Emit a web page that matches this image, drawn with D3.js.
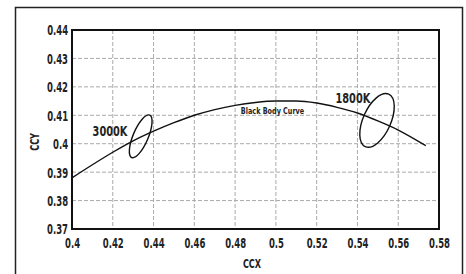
<!DOCTYPE html>
<html>
<head>
<meta charset="utf-8">
<script src="https://cdn.jsdelivr.net/npm/d3@7"></script>
<style>
  body { margin: 0; background: #fff; }
  text { font-family: "DejaVu Sans", sans-serif; font-weight: bold; fill: #222; }
</style>
</head>
<body>
<div id="chart"></div>
<script>
// chart values
var xTicks = [0.4, 0.42, 0.44, 0.46, 0.48, 0.5, 0.52, 0.54, 0.56, 0.58];
var yTicks = [0.37, 0.38, 0.39, 0.4, 0.41, 0.42, 0.43, 0.44];

// black body curve
var curveX = [0.40, 0.41, 0.42, 0.43, 0.44, 0.45, 0.46, 0.47, 0.48, 0.49, 0.50, 0.51, 0.52, 0.53, 0.54, 0.55, 0.56, 0.5735];
var curveY = [0.388, 0.3926, 0.3970, 0.4010, 0.4044, 0.4074, 0.4100, 0.4120, 0.4135, 0.4145, 0.4150, 0.4150, 0.4143, 0.4128, 0.4108, 0.4080, 0.4048, 0.3993];

// colour ellipses: name, centre, semi axes (in CCX units), tilt
var ellipseNames = ["3000K", "1800K"];
var ellipseCx = [0.4337, 0.5496];
var ellipseCy = [0.4026, 0.4082];
var ellipseA = [0.0113, 0.0141];
var ellipseB = [0.0037, 0.0068];
var ellipseTilt = [-67, -66];

var width = 466;
var height = 274;

// narrow font look: squeeze text horizontally
function squeeze(sel, k, origin) {
    sel.style("transform-box", "fill-box")
        .style("transform-origin", origin)
        .style("transform", "scaleX(" + k + ")");
}

var svg = d3.select("#chart")
    .append("svg")
    .attr("width", width)
    .attr("height", height);

// outer frame
svg.append("rect")
    .attr("x", 15.5)
    .attr("y", 7.5)
    .attr("width", 447)
    .attr("height", 300)
    .attr("fill", "none")
    .attr("stroke", "#222")
    .attr("stroke-width", 1.5);

var pLeft = 72, pRight = 439, pTop = 30, pBottom = 229;

var xScale = d3.scaleLinear().domain([0.4, 0.58]).range([pLeft, pRight]);
var yScale = d3.scaleLinear().domain([0.37, 0.44]).range([pBottom, pTop]);

// grid
svg.append("g")
    .selectAll("line")
    .data(xTicks.slice(1, -1))
    .enter()
    .append("line")
    .attr("x1", function(d) { return xScale(d); })
    .attr("x2", function(d) { return xScale(d); })
    .attr("y1", pTop)
    .attr("y2", pBottom)
    .attr("stroke", "#aaa")
    .attr("stroke-dasharray", "4,2");

svg.append("g")
    .selectAll("line")
    .data(yTicks.slice(1, -1))
    .enter()
    .append("line")
    .attr("y1", function(d) { return yScale(d); })
    .attr("y2", function(d) { return yScale(d); })
    .attr("x1", pLeft)
    .attr("x2", pRight)
    .attr("stroke", "#aaa")
    .attr("stroke-dasharray", "4,2");

// axes, lines hidden, labels only
var xAxis = d3.axisBottom(xScale).tickValues(xTicks).tickSize(0).tickPadding(9)
    .tickFormat(function(d) { return String(+d.toFixed(2)); });
var yAxis = d3.axisLeft(yScale).tickValues(yTicks).tickSize(0).tickPadding(4)
    .tickFormat(function(d) { return String(+d.toFixed(2)); });

var gx = svg.append("g")
    .attr("transform", "translate(0," + pBottom + ")")
    .call(xAxis);
var gy = svg.append("g")
    .attr("transform", "translate(" + pLeft + ",0)")
    .call(yAxis);

[gx, gy].forEach(function(g) {
    g.select(".domain").remove();
    g.selectAll("text")
        .attr("fill", "#222")
        .style("font-size", "13.5px")
        .style("font-family", "'DejaVu Sans', sans-serif")
        .style("font-weight", "bold");
});
gy.selectAll("text").attr("dy", "0.36em");
squeeze(gx.selectAll("text"), 0.63, "center");
squeeze(gy.selectAll("text"), 0.63, "right center");

// plot frame
svg.append("rect")
    .attr("x", pLeft)
    .attr("y", pTop)
    .attr("width", pRight - pLeft)
    .attr("height", pBottom - pTop)
    .attr("fill", "none")
    .attr("stroke", "#111")
    .attr("stroke-width", 2);

// axis titles
var ccx = svg.append("text")
    .attr("x", 252)
    .attr("y", 268)
    .attr("text-anchor", "middle")
    .style("font-size", "12.5px")
    .text("CCX");
squeeze(ccx, 0.65, "center");

var ccy = svg.append("g")
    .attr("transform", "translate(38.5,142) rotate(-90)")
    .append("text")
    .attr("text-anchor", "middle")
    .style("font-size", "12.5px")
    .text("CCY");
squeeze(ccy, 0.65, "center");

// black body curve
var curveData = curveX.map(function(x, i) { return [x, curveY[i]]; });
var line = d3.line()
    .x(function(d) { return xScale(d[0]); })
    .y(function(d) { return yScale(d[1]); })
    .curve(d3.curveMonotoneX);

svg.append("path")
    .datum(curveData)
    .attr("d", line)
    .attr("fill", "none")
    .attr("stroke", "#111")
    .attr("stroke-width", 1.4);

var bbc = svg.append("text")
    .attr("x", xScale(0.4983))
    .attr("y", yScale(0.4105))
    .attr("text-anchor", "middle")
    .style("font-size", "9.5px")
    .text("Black Body Curve");
squeeze(bbc, 0.68, "center");

// ellipses
var pxPerX = xScale(0.41) - xScale(0.4);
ellipseNames.forEach(function(name, i) {
    var cx = xScale(ellipseCx[i]);
    var cy = yScale(ellipseCy[i]);
    svg.append("ellipse")
        .attr("cx", 0)
        .attr("cy", 0)
        .attr("rx", ellipseA[i] * pxPerX / 0.01)
        .attr("ry", ellipseB[i] * pxPerX / 0.01)
        .attr("transform", "translate(" + cx + "," + cy + ") rotate(" + ellipseTilt[i] + ")")
        .attr("fill", "none")
        .attr("stroke", "#111")
        .attr("stroke-width", 1.4);
});

// ellipse labels
var l3000 = svg.append("text")
    .attr("x", xScale(0.4271))
    .attr("y", yScale(0.4028))
    .attr("text-anchor", "end")
    .style("font-size", "14px")
    .text("3000K");
squeeze(l3000, 0.7, "right center");

var l1800 = svg.append("text")
    .attr("x", xScale(0.5462))
    .attr("y", yScale(0.4142))
    .attr("text-anchor", "end")
    .style("font-size", "14px")
    .text("1800K");
squeeze(l1800, 0.7, "right center");
</script>
</body>
</html>
